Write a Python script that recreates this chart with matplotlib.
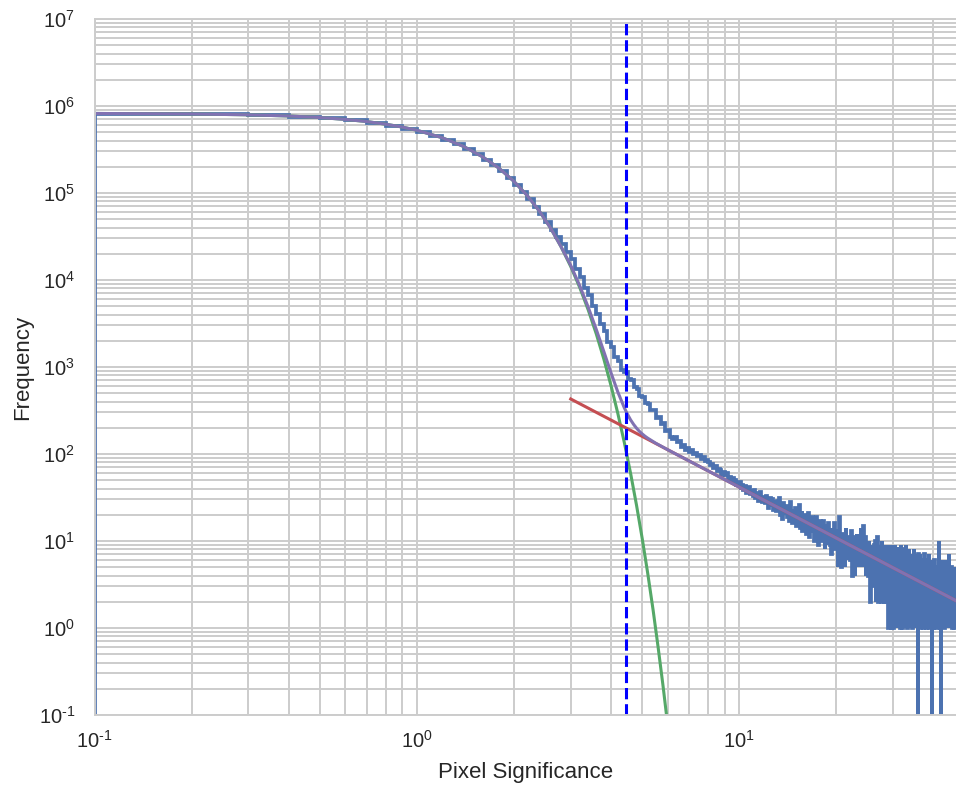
import numpy as np
import matplotlib
matplotlib.use("Agg")
import matplotlib.pyplot as plt
from matplotlib.ticker import FuncFormatter

plt.rcParams['font.family'] = ['Liberation Sans', 'DejaVu Sans']
plt.rcParams['mathtext.fontset'] = 'custom'
plt.rcParams['mathtext.rm'] = 'Liberation Sans'
plt.rcParams['mathtext.it'] = 'Liberation Sans:italic'
plt.rcParams['mathtext.sf'] = 'Liberation Sans'

# histogram of pixel significance, bins of 0.1 starting at 0
bin_width = 0.1
counts_core = [824000, 817000, 802000, 781000, 753000, 720000, 682000, 640000, 596000, 549000,
               502000, 455000, 408000, 363000, 320000, 280000, 242000, 208000, 177000, 149000,
               124500, 103500, 85000, 69500, 56900, 46300, 37700, 30800, 25600, 20800]
counts_shoulder = [17400, 13300, 10800, 8150, 6650, 5000, 4120, 3080, 2580, 1960,
                   1690, 1300, 1160, 935, 880, 720, 700, 585, 560, 470,
                   455, 385, 372, 318, 322, 262, 266, 221, 226, 183,
                   190, 158, 148, 157, 136, 140, 121, 126, 110, 116]
counts_tail = [106, 112, 99, 104, 95, 97, 88, 92, 84, 86,
               81, 74, 77, 69, 72, 63, 68, 66, 58, 62,
               57, 61, 52, 55, 49, 53, 46, 50, 44, 47,
               48, 41, 44, 39, 43, 36, 40, 42, 35, 38,
               33, 39, 31, 36, 29, 34, 37, 30, 28, 32,
               27, 33, 29, 24, 31, 26, 30, 23, 28, 25,
               22, 29, 25, 31, 20, 24, 18, 27, 23, 21,
               25, 19, 23, 17, 28, 20, 16, 22, 19, 24,
               15, 21, 18, 26, 14, 19, 22, 13, 17, 20,
               18, 12, 16, 21, 14, 11, 17, 15, 19, 13,
               16, 10, 14, 19, 12, 15, 9, 13, 17, 11,
               14, 10, 17, 12, 8, 13, 15, 11, 9, 16,
               12, 9, 14, 7, 11, 13, 10, 16, 8, 12,
               9, 13, 5, 11, 19, 8, 10, 5, 7, 11,
               12, 8, 5, 10, 14, 7, 9, 6, 11, 8,
               10, 6, 13, 8, 4, 9, 11, 7, 4, 10,
               7, 12, 9, 5, 8, 10, 6, 9, 14, 7,
               5, 8, 15, 6, 9, 7, 11, 4, 8, 6,
               8, 4, 10, 5, 2, 2, 9, 6, 3, 8,
               7, 3, 9, 4, 10, 2, 8, 5, 11, 3,
               2, 8, 4, 9, 3, 7, 2, 10, 5, 8,
               3, 9, 2, 7, 4, 8, 2, 6, 3, 9,
               1, 7, 2, 8, 3, 9, 1, 6, 4, 8,
               1, 6, 2, 9, 3, 7, 1, 5, 2, 8,
               2, 7, 1, 8, 3, 6, 1, 9, 2, 6,
               1, 6, 3, 8, 1, 7, 2, 5, 1, 9,
               2, 7, 1, 6, 3, 8, 1, 5, 2, 6,
               1, 6, 2, 7, 1, 5, 3, 8, 1, 5,
               2, 6, 1, 5, 3, 7, 1, 4, 0, 7,
               1, 5, 2, 7, 1, 4, 3, 6, 1, 5,
               2, 6, 1, 5, 2, 7, 1, 4, 2, 3,
               1, 5, 2, 6, 1, 4, 2, 7, 1, 4,
               2, 5, 1, 4, 2, 0, 6, 1, 4, 3,
               1, 4, 2, 6, 1, 3, 2, 5, 1, 4,
               2, 4, 1, 3, 5, 1, 10, 2, 1, 3,
               1, 4, 0, 5, 1, 3, 2, 6, 1, 3,
               2, 4, 1, 3, 1, 6, 2, 3, 1, 4,
               1, 3, 2, 5, 1, 3, 1, 7, 2, 3,
               2, 4, 1, 3, 1, 5, 2, 3, 1, 4,
               1, 3, 2, 4, 1, 3, 1, 5, 2, 3,
               2, 3, 1, 4, 1, 3, 2, 3, 1, 2]

# gaussian (noise) fit
gauss_x = [0.1, 0.2, 0.3, 0.4, 0.5, 0.6, 0.7, 0.8, 0.9, 1.0,
           1.2, 1.4, 1.6, 1.8, 2.0, 2.2, 2.4, 2.6, 2.8, 3.0,
           3.2, 3.4, 3.6, 3.8, 4.0, 4.2, 4.4, 4.6, 4.8, 5.0,
           5.2, 5.4, 5.6, 5.8, 6.0, 6.2]
gauss_y = [821000, 810000, 792000, 768000, 737000, 701000, 662000, 618000, 573000, 526000,
           431000, 341000, 260000, 192000, 136000, 93200, 61600, 39300, 24100, 14300,
           8190, 4520, 2405, 1235, 611, 292, 135, 60, 25.7, 10.6,
           4.23, 1.63, 0.60, 0.216, 0.075, 0.025]

# power law fit (tail)
power_x = [3.0, 47.0]
power_y = [429, 2.06]

# combined model
model_x = [0.1, 0.2, 0.3, 0.4, 0.5, 0.6, 0.7, 0.8, 0.9, 1.0,
           1.2, 1.4, 1.6, 1.8, 2.0, 2.2, 2.4, 2.6, 2.8, 3.0,
           3.2, 3.4, 3.6, 3.8, 4.0, 4.2, 4.4, 4.5, 4.6, 4.7, 4.8, 4.9, 5.0,
           5.1, 5.2, 5.5, 6.0, 7.0, 8.0, 10.0, 12.0, 15.0, 20.0, 25.0, 30.0,
           35.0, 40.0, 47.0]
model_y = [821000, 810000, 792000, 768000, 737000, 701000, 662000, 618000, 573000, 526000,
           431000, 341000, 260000, 192000, 136000, 93200, 61600, 39300, 24100, 14729,
           8568, 4857, 2706, 1506, 857, 515, 339, 286, 247, 219, 198, 182, 170,
           160, 152, 133.4, 111.9, 82.9, 64.0, 41.5, 29.1, 18.9, 10.8, 7.01, 4.92,
           3.65, 2.82, 2.06]

cutoff = 4.46

x_min, x_max = 0.1, 47.0
y_min, y_max = 0.1, 1e7
x_ticks = [0.1, 1, 10]
y_ticks = [1e-1, 1e0, 1e1, 1e2, 1e3, 1e4, 1e5, 1e6, 1e7]

counts = np.array(counts_core + counts_shoulder + counts_tail, dtype=float)
edges = np.round(np.arange(len(counts) + 1) * bin_width, 1)
# the zero edge lands on the frame on a log axis
edges_drawn = np.clip(edges, x_min, None)


def pow10(v, pos):
    e = int(round(np.log10(v)))
    s = str(e).replace('-', '\u2010')
    return r'$\mathdefault{10^{%s}}$' % s


fig = plt.figure(figsize=(9.56, 7.89), dpi=100)
ax = fig.add_axes([94.5 / 956, 74 / 789, 1 - 94.5 / 956, 696 / 789])

ax.stairs(counts, edges_drawn, baseline=0, color='#4C72B0', linewidth=2.7)
ax.plot(gauss_x, gauss_y, color='#55A868', linewidth=2.2)
ax.plot(power_x, power_y, color='#C44E52', linewidth=2.2)
ax.plot(model_x, model_y, color='#8172B2', linewidth=2.2)
ax.axvline(cutoff, color='#0000ff', linestyle='--', linewidth=2.2)

ax.set_xscale('log')
ax.set_yscale('log')
ax.set_xticks(x_ticks)
ax.set_yticks(y_ticks)
ax.set_xlim(x_min, x_max)
ax.set_ylim(y_min, y_max)
ax.xaxis.set_major_formatter(FuncFormatter(pow10))
ax.yaxis.set_major_formatter(FuncFormatter(pow10))

ax.grid(True, which='both', color='#cccccc', linewidth=1.4)
ax.set_axisbelow(True)
for s in ['top', 'left', 'bottom']:
    ax.spines[s].set_color('#cccccc')
    ax.spines[s].set_linewidth(1.4)
ax.spines['right'].set_visible(False)
ax.tick_params(which='both', length=0, labelsize=14.5, colors='#262626')
ax.tick_params(axis='y', pad=14)
ax.tick_params(axis='x', pad=11)

ax.set_xlabel("Pixel Significance", fontsize=16, color='#262626', labelpad=7)
ax.set_ylabel("Frequency", fontsize=16, color='#262626', labelpad=4)

fig.savefig("out.png", dpi=100)
